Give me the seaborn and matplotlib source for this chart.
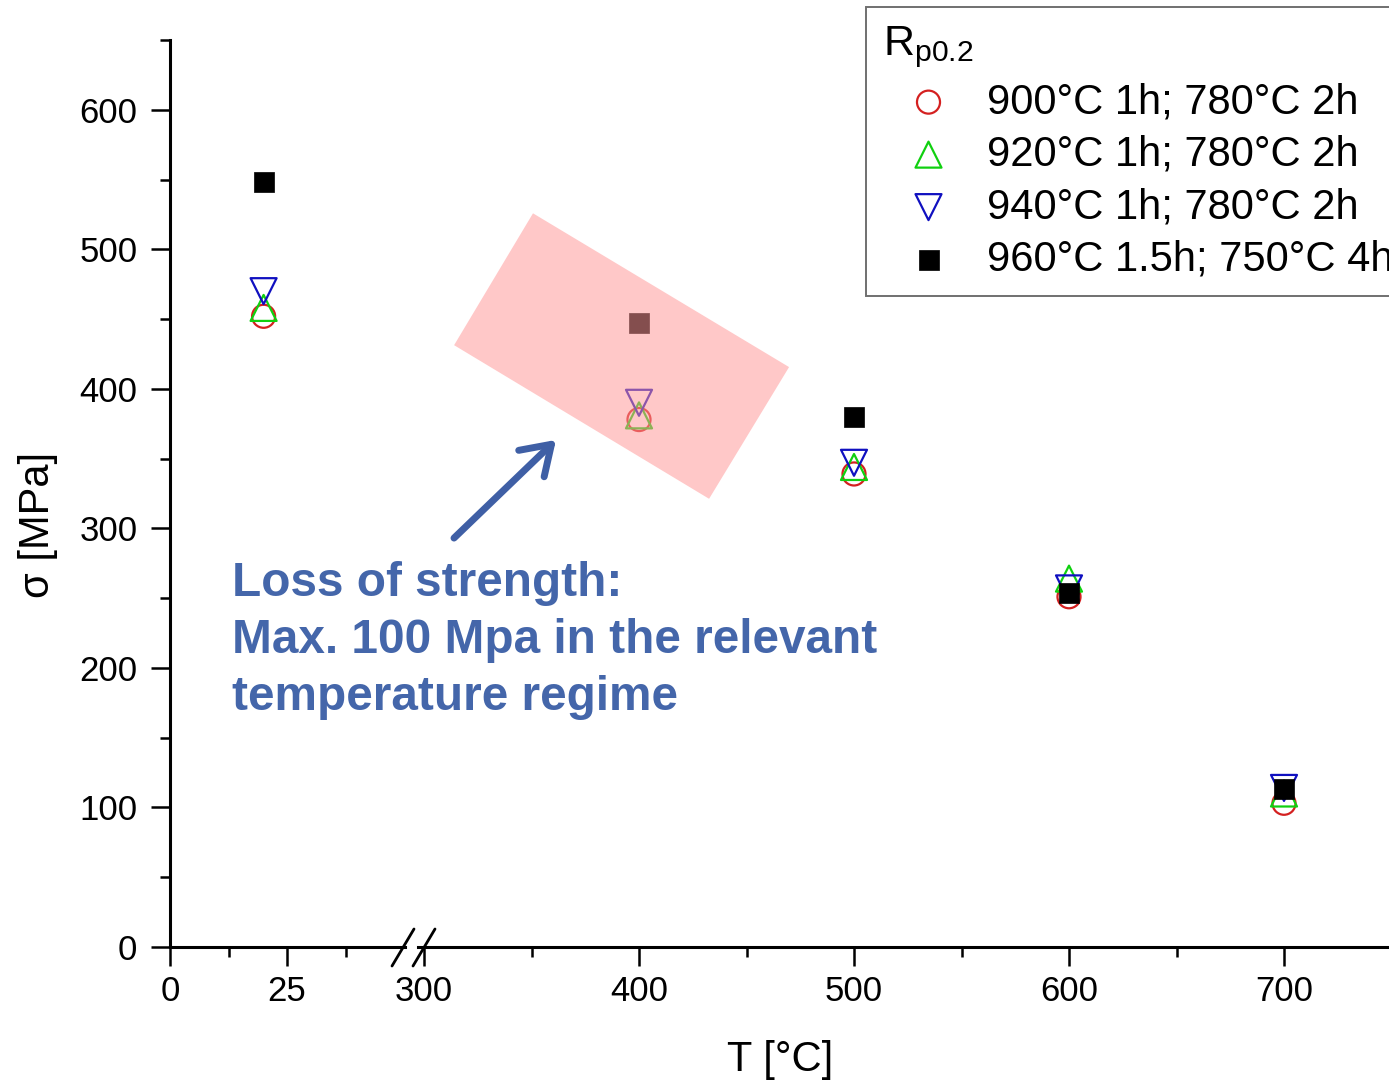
import numpy as np
import pandas as pd
import matplotlib
matplotlib.use("Agg")
import matplotlib.pyplot as plt
import seaborn as sns
from matplotlib.patches import Polygon
from matplotlib.lines import Line2D
from matplotlib.ticker import FixedLocator

# ---------------- data ----------------
temperatures = [20, 400, 500, 600, 700]
series_labels = ["900°C 1h; 780°C 2h", "920°C 1h; 780°C 2h",
                 "940°C 1h; 780°C 2h", "960°C 1.5h; 750°C 4h"]
rp_900 = [452, 378, 339, 251, 103]
rp_920 = [458, 381, 344, 264, 110]
rp_940 = [470, 390, 347, 257, 114]
rp_960 = [548, 447, 380, 254, 113]
left_major = [0, 25]
left_minor = [12.5, 37.5]
right_major = [300, 400, 500, 600, 700]
right_minor = [350, 450, 550, 650, 750]
y_major = [0, 100, 200, 300, 400, 500, 600]
y_minor = [50, 150, 250, 350, 450, 550, 650]

# ---------------- style ----------------
sns.set_style("ticks")
plt.rcParams["font.family"] = ["Liberation Sans", "DejaVu Sans"]
plt.rcParams["mathtext.fontset"] = "custom"
plt.rcParams["mathtext.rm"] = "Liberation Sans"
plt.rcParams["text.color"] = "black"
plt.rcParams["axes.labelcolor"] = "black"

W, H = 1389, 1084
fig = plt.figure(figsize=(W / 100, H / 100), dpi=100)

def fx(px):
    return px / W

def fy(py):
    return 1 - py / H

ax_bottom = fy(947)
ax_height = fy(40) - fy(947)
axL = fig.add_axes([fx(170), ax_bottom, fx(405) - fx(170), ax_height])
axR = fig.add_axes([fx(418), ax_bottom, fx(1389) - fx(418), ax_height])

series = [
    (rp_900, "o", "#D42020", False, 275),
    (rp_920, "^", "#10D010", False, 350),
    (rp_940, "v", "#1010C0", False, 350),
    (rp_960, "s", "black", True, 195),
]

for ax in (axL, axR):
    for (vals, mk, col, filled, size), lab in zip(series, series_labels):
        sns.scatterplot(x=temperatures, y=vals, ax=ax, marker=mk, s=size,
                        facecolor=col if filled else "none", edgecolor=col,
                        linewidth=1.6 if not filled else 0.5, zorder=3,
                        label=lab if ax is axR else None, legend=False)

axL.set_xlim(0, (405 - 170) / 4.68)
axR.set_xlim(300 + (418 - 424) / 2.15, 300 + (1389 - 424) / 2.15)
for ax in (axL, axR):
    ax.set_ylim(0, 650)
    ax.set_xlabel("")
    ax.set_ylabel("")
    for s in ("top", "right"):
        ax.spines[s].set_visible(False)
    ax.spines["bottom"].set_linewidth(2.2)
    ax.spines["left"].set_linewidth(2.2)
    ax.spines["bottom"].set_color("black")
    ax.spines["left"].set_color("black")
    ax.tick_params(which="major", direction="out", length=13.5, width=1.8,
                   labelsize=25, pad=7, color="black", labelcolor="black")
    ax.tick_params(which="minor", direction="out", length=7, width=1.8,
                   color="black")
    ax.patch.set_alpha(0)

axL.xaxis.set_major_locator(FixedLocator(left_major))
axL.xaxis.set_minor_locator(FixedLocator(left_minor))
axL.yaxis.set_major_locator(FixedLocator(y_major))
axL.yaxis.set_minor_locator(FixedLocator(y_minor))
axL.set_yticklabels([str(v) for v in y_major])
axL.tick_params(axis="y", which="major", pad=10)

axR.xaxis.set_major_locator(FixedLocator(right_major))
axR.xaxis.set_minor_locator(FixedLocator(right_minor))
axR.spines["left"].set_visible(False)
axR.tick_params(axis="y", which="both", left=False, labelleft=False)

# axis break marks
for x0 in (392, 413):
    fig.add_artist(Line2D([fx(x0), fx(x0 + 22)], [fy(966), fy(929)],
                          color="black", lw=2.0, transform=fig.transFigure))

# axis titles
fig.text(fx(780), fy(1060), "T [°C]", ha="center", va="center", fontsize=30)
fig.text(fx(38), fy(525), "σ [MPa]", ha="center", va="center",
         rotation=90, fontsize=30)

# highlight box (annotation overlay)
box = Polygon([(350.7, 525.8), (469.8, 415.6), (432.6, 321.2), (314.0, 431.3)],
              closed=True, facecolor="#FF9696", alpha=0.52, edgecolor="none",
              zorder=5, transform=axR.transData)
axR.add_patch(box)

# annotation text and arrow
ann_color = "#4466AA"
fig.add_artist(matplotlib.patches.FancyArrowPatch(
    (fx(452), fy(540)), (fx(558), fy(438)), transform=fig.transFigure,
    arrowstyle="->,head_length=0.5,head_width=0.33", mutation_scale=40,
    lw=5, color="#3F5FA5", capstyle="round", joinstyle="round"))
lines = ["Loss of strength:", "Max. 100 Mpa in the relevant",
         "temperature regime"]
for i, t in enumerate(lines):
    fig.text(fx(232), fy(596 + 57 * i), t, ha="left", va="baseline",
             fontsize=34.4, fontweight="bold", color=ann_color)

# legend
handles, labels = axR.get_legend_handles_labels()
leg = axR.legend(handles, labels, loc="upper left",
                 bbox_to_anchor=(fx(866), fy(7)), bbox_transform=fig.transFigure,
                 frameon=True, fancybox=False, framealpha=1, edgecolor="#707070",
                 fontsize=30, title=r"$\mathregular{R_{p0.2}}$", title_fontsize=31,
                 alignment="left", borderpad=0.4, handlelength=2.2,
                 handletextpad=0.3, labelspacing=0.3, borderaxespad=0,
                 scatterpoints=1)
leg.get_frame().set_linewidth(1.4)

fig.savefig("out.png", dpi=100)
